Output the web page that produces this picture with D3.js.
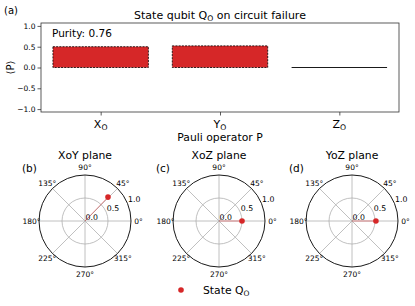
<!DOCTYPE html>
<html><head><meta charset="utf-8">
<script src="https://cdn.jsdelivr.net/npm/d3@7"></script>
<style>
html,body{margin:0;padding:0;background:#fff;}
text{font-family:"DejaVu Sans",sans-serif;fill:#000;}
</style></head>
<body>
<svg id="chart" width="415" height="306"></svg>
<script>
// ---- data ----
const operators = ["X", "Y", "Z"];
const expectations = [0.50, 0.52, 0.0];
const purityValue = 0.76;
const yTicks = [-1.0, -0.5, 0.0, 0.5, 1.0];
const planes = [
  {name: "XoY", label: "(b)", a: 0, b: 1},
  {name: "XoZ", label: "(c)", a: 0, b: 2},
  {name: "YoZ", label: "(d)", a: 1, b: 2}
];
const angleTicks = [0, 45, 90, 135, 180, 225, 270, 315];
const radialTicks = [0.0, 0.5, 1.0];
const barColor = "#d62728";

const svg = d3.select("#chart");

function subText(sel, main, sub, size) {
  sel.append("tspan").text(main);
  sel.append("tspan").attr("font-size", size * 0.7).attr("dy", size * 0.2).text(sub);
}

// ---- panel (a) ----
const ax = {left: 41, right: 399, top: 23, bottom: 112};
const x = d3.scaleLinear().domain([-0.5, 2.5]).range([ax.left, ax.right]);
const y = d3.scaleLinear().domain([-1.07, 1.07]).range([ax.bottom, ax.top]);

const gA = svg.append("g");
// bars
gA.selectAll("rect.bar").data(expectations).join("rect")
  .attr("class", "bar")
  .attr("x", (d, i) => x(i - 0.4))
  .attr("width", (d, i) => x(i + 0.4) - x(i - 0.4))
  .attr("y", d => y(Math.max(d, 0)))
  .attr("height", d => Math.abs(y(d) - y(0)))
  .attr("fill", barColor)
  .attr("stroke", "#000")
  .attr("stroke-width", 0.8)
  .attr("stroke-dasharray", "2,1.2");
// zero-height bars draw as a line
gA.selectAll("line.zero").data(expectations.map((d, i) => ({d, i})).filter(o => o.d === 0)).join("line")
  .attr("class", "zero")
  .attr("x1", o => x(o.i - 0.4))
  .attr("x2", o => x(o.i + 0.4))
  .attr("y1", y(0)).attr("y2", y(0))
  .attr("stroke", "#000").attr("stroke-width", 0.9);

// frame
gA.append("rect").attr("x", ax.left).attr("y", ax.top)
  .attr("width", ax.right - ax.left).attr("height", ax.bottom - ax.top)
  .attr("fill", "none").attr("stroke", "#333").attr("stroke-width", 0.8);

// y axis
const yAxis = d3.axisLeft(y).tickValues(yTicks).tickSize(3.5).tickPadding(2)
  .tickFormat(d => d3.format(".1f")(d).replace("-", "\u2212"));
const gy = gA.append("g").attr("transform", `translate(${ax.left},0)`).call(yAxis);
gy.select(".domain").remove();
gy.selectAll("line").attr("stroke", "#333").attr("stroke-width", 0.8);
gy.selectAll("text").attr("font-size", 7.5).attr("font-family", "DejaVu Sans");

// x axis
const xAxis = d3.axisBottom(x).tickValues([0, 1, 2]).tickSize(3.5).tickFormat("");
const gx = gA.append("g").attr("transform", `translate(0,${ax.bottom})`).call(xAxis);
gx.select(".domain").remove();
gx.selectAll("line").attr("stroke", "#333").attr("stroke-width", 0.8);
operators.forEach((op, i) => {
  const t = gA.append("text").attr("x", x(i)).attr("y", 128).attr("text-anchor", "middle").attr("font-size", 11);
  subText(t, op, "O", 11);
});
gA.append("text").attr("x", (ax.left + ax.right) / 2).attr("y", 141).attr("text-anchor", "middle")
  .attr("font-size", 10.8).text("Pauli operator P");
gA.append("text").attr("transform", `translate(14,${(ax.top + ax.bottom) / 2}) rotate(-90)`)
  .attr("text-anchor", "middle").attr("font-size", 10).text("\u27E8P\u27E9");
const title = gA.append("text").attr("x", (ax.left + ax.right) / 2).attr("y", 19)
  .attr("text-anchor", "middle").attr("font-size", 11);
subText(title, "State qubit Q", "O", 11);
title.append("tspan").attr("dy", -11 * 0.2).text(" on circuit failure");
gA.append("text").attr("x", 4).attr("y", 14).attr("font-size", 10).text("(a)");
gA.append("text").attr("x", 52).attr("y", 37).attr("font-size", 10.5)
  .text("Purity: " + d3.format(".2f")(purityValue));

// ---- polar panels (b)-(d) ----
const centersX = [85, 219, 352];
const cy = 221;
const R = 46;
const r = d3.scaleLinear().domain([0, 1]).range([0, R]);

planes.forEach((p, k) => {
  const g = svg.append("g").attr("transform", `translate(${centersX[k]},${cy})`);
  const va = expectations[p.a], vb = expectations[p.b];
  const rad = Math.sqrt(va * va + vb * vb);
  const th = Math.atan2(vb, va);
  // grid
  radialTicks.filter(t => t > 0 && t < 1).forEach(t => {
    g.append("circle").attr("r", r(t)).attr("fill", "none").attr("stroke", "#b0b0b0").attr("stroke-width", 0.8);
  });
  angleTicks.forEach(a => {
    const ar = a * Math.PI / 180;
    g.append("line").attr("x1", 0).attr("y1", 0)
      .attr("x2", r(1) * Math.cos(ar)).attr("y2", -r(1) * Math.sin(ar))
      .attr("stroke", "#b0b0b0").attr("stroke-width", 0.8);
  });
  g.append("circle").attr("r", r(1)).attr("fill", "none").attr("stroke", "#000").attr("stroke-width", 0.9);
  // angle labels
  angleTicks.forEach(a => {
    const ar = a * Math.PI / 180;
    g.append("text").attr("x", 53.5 * Math.cos(ar)).attr("y", -53.5 * Math.sin(ar) + 2.6)
      .attr("text-anchor", "middle").attr("font-size", 7.5).text(a + "\u00B0");
  });
  // radial labels
  const ra = 22.5 * Math.PI / 180;
  radialTicks.forEach(t => {
    g.append("text").attr("x", r(t) * Math.cos(ra) + 0.5).attr("y", -r(t) * Math.sin(ra) - 1.5)
      .attr("font-size", 7.8).text(d3.format(".1f")(t));
  });
  // data
  g.append("line").attr("x1", 0).attr("y1", 0)
    .attr("x2", r(rad) * Math.cos(th)).attr("y2", -r(rad) * Math.sin(th))
    .attr("stroke", barColor).attr("stroke-width", 0.8).attr("opacity", 0.6);
  g.append("circle").attr("cx", r(rad) * Math.cos(th)).attr("cy", -r(rad) * Math.sin(th))
    .attr("r", 2.8).attr("fill", barColor);
  // titles
  g.append("text").attr("x", 0).attr("y", -62).attr("text-anchor", "middle").attr("font-size", 10.8).text(p.name + " plane");
  g.append("text").attr("x", -63).attr("y", -49).attr("font-size", 10.5).text(p.label);
});

// legend
svg.append("circle").attr("cx", 181).attr("cy", 290).attr("r", 2.8).attr("fill", barColor);
const lg = svg.append("text").attr("x", 203).attr("y", 294).attr("font-size", 10.8);
subText(lg, "State Q", "O", 10.8);
</script>
</body></html>
